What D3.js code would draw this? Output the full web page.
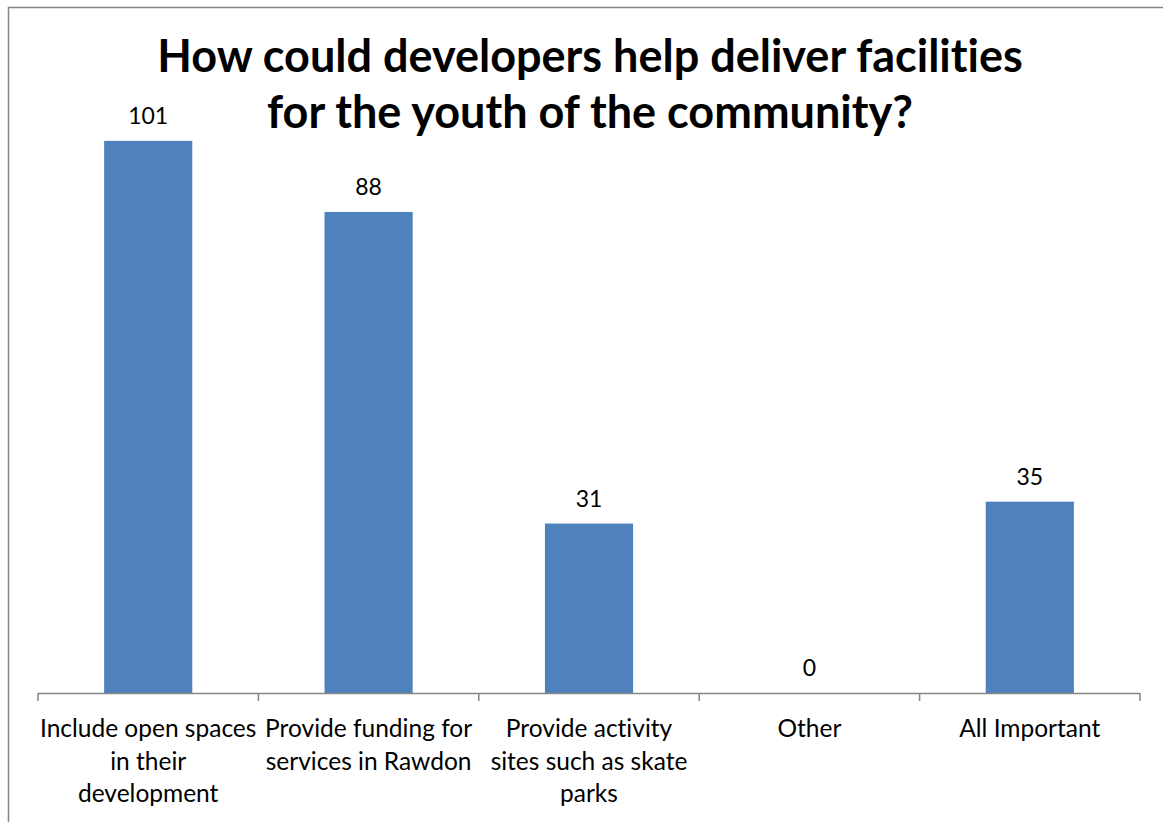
<!DOCTYPE html>
<html>
<head>
<meta charset="utf-8">
<script src="https://cdn.jsdelivr.net/npm/d3@7"></script>
<style>
  html, body { margin: 0; padding: 0; background: #ffffff; }
  svg { display: block; }
  text { font-family: "Lato", "Open Sans", sans-serif; fill: #000; font-variant-ligatures: none; }
</style>
</head>
<body>
<svg id="chart" width="1163" height="822"></svg>
<script>
// Survey responses
const categories = [
  "Include open spaces in their development",
  "Provide funding for services in Rawdon",
  "Provide activity sites such as skate parks",
  "Other",
  "All Important"
];
// Category labels broken into lines as they are shown under the axis
const categoryLines = [
  ["Include open spaces", "in their", "development"],
  ["Provide funding for", "services in Rawdon"],
  ["Provide activity", "sites such as skate", "parks"],
  ["Other"],
  ["All Important"]
];
const responses = [101, 88, 31, 0, 35];
const titleLines = [
  "How could developers help deliver facilities",
  "for the youth of the community?"
];

const svg = d3.select("#chart");

// Outer chart frame (runs off the right and bottom edges)
svg.append("rect")
  .attr("x", 8.5).attr("y", 7.5)
  .attr("width", 1200).attr("height", 900)
  .attr("fill", "#fff")
  .attr("stroke", "#868686")
  .attr("stroke-width", 1.5);

const plot = { left: 38, right: 1140, top: 37, bottom: 693 };

const x = d3.scaleBand()
  .domain(categories)
  .range([plot.left, plot.right])
  .paddingInner(0.6)
  .paddingOuter(0.3);

const y = d3.scaleLinear()
  .domain([0, 120])
  .range([plot.bottom, plot.top]);

// Bars
svg.append("g").selectAll("rect")
  .data(categories)
  .join("rect")
  .attr("x", d => x(d))
  .attr("y", (d, i) => y(responses[i]))
  .attr("width", x.bandwidth())
  .attr("height", (d, i) => y(0) - y(responses[i]))
  .attr("fill", "#4f81bd");

// Category axis with ticks between categories
const axisG = svg.append("g");
axisG.append("line")
  .attr("x1", plot.left).attr("x2", plot.right)
  .attr("y1", y(0) + 0.5).attr("y2", y(0) + 0.5)
  .attr("stroke", "#868686").attr("stroke-width", 1.5);

const boundaries = d3.range(categories.length + 1)
  .map(i => plot.left + i * (plot.right - plot.left) / categories.length);
axisG.selectAll("line.tick")
  .data(boundaries)
  .join("line")
  .attr("class", "tick")
  .attr("x1", d => d).attr("x2", d => d)
  .attr("y1", y(0)).attr("y2", y(0) + 8)
  .attr("stroke", "#868686").attr("stroke-width", 1.5);

// Category labels
const labelG = svg.append("g");
categories.forEach((c, i) => {
  const cx = x(c) + x.bandwidth() / 2;
  const t = labelG.append("text")
    .attr("text-anchor", "middle")
    .attr("font-size", 24.5);
  categoryLines[i].forEach((line, j) => {
    t.append("tspan")
      .attr("x", cx)
      .attr("y", 737 + j * 32.5)
      .text(line);
  });
});

// Value labels above bars
svg.append("g").selectAll("text")
  .data(categories)
  .join("text")
  .attr("x", d => x(d) + x.bandwidth() / 2)
  .attr("y", (d, i) => y(responses[i]) - 17)
  .attr("text-anchor", "middle")
  .attr("font-size", 23)
  .text((d, i) => responses[i]);

// Title
const title = svg.append("text")
  .attr("text-anchor", "middle")
  .attr("font-size", 45)
  .attr("font-weight", "bold");
titleLines.forEach((line, j) => {
  title.append("tspan")
    .attr("x", 590)
    .attr("y", 72 + j * 56)
    .text(line);
});
</script>
</body>
</html>
